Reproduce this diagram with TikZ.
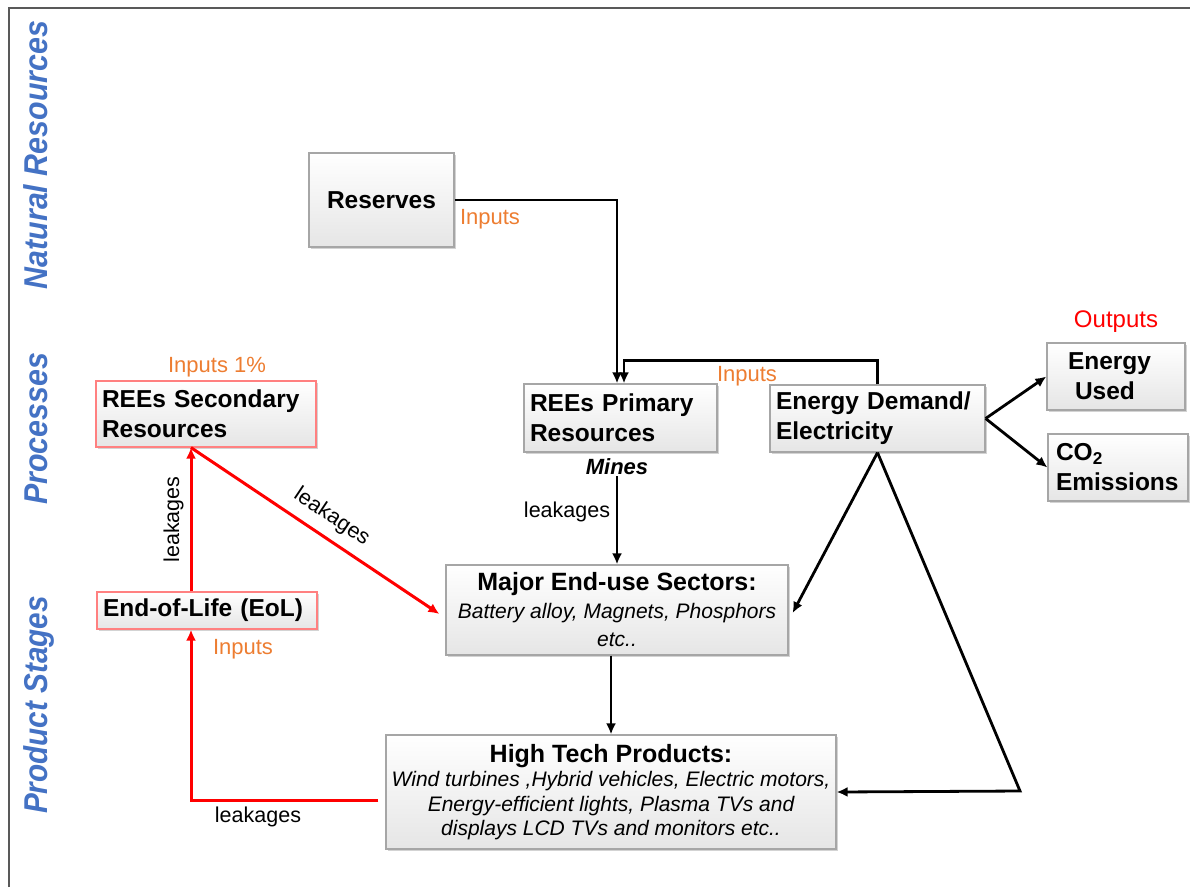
\documentclass[tikz,border=0pt]{standalone}
\usepackage{fontspec}
\setmainfont{Liberation Sans}
\usetikzlibrary{shadows,calc,arrows.meta}

\definecolor{sideblue}{HTML}{4472C4}
\definecolor{inorange}{HTML}{ED7D31}

\tikzset{
  box/.style={draw=black!35, line width=1.2pt, top color=white, bottom color=black!10,
    drop shadow={shadow xshift=2pt, shadow yshift=-2pt, opacity=0.35},
    inner sep=0pt, font=\bfseries\fontsize{24.5}{30}\selectfont},
  redbox/.style={box, draw=red!50},
  blk/.style={line width=2.8pt, -{Latex[length=11pt,width=10pt]}},
  redarr/.style={draw=red, line width=3pt, -{Latex[length=11pt,width=10pt]}},
  side/.style={color=sideblue, rotate=90, anchor=base, inner sep=0pt,
    font=\bfseries\itshape\fontsize{33}{33}\selectfont},
  lbl/.style={inorange, font=\fontsize{22}{22}\selectfont},
  leak/.style={font=\fontsize{21.5}{21.5}\selectfont},
}

\begin{document}
\begin{tikzpicture}[x=1pt, y=-1pt]
\useasboundingbox (0,0) rectangle (1190,887);

% frame
\draw[line width=1.5pt, black!65] (9,887) -- (9,8) -- (1190,8);

% side headings
\node[side] (hnat)  at (47,155) {\scalebox{0.92}[1]{Natural Resources}};
\node[side] (hproc) at (47,429) {\scalebox{0.92}[1]{Processes}};
\node[side] (hprod) at (47,705) {\scalebox{0.9}[1]{Product Stages}};

% boxes
\node[box, minimum width=145pt, minimum height=94pt, align=center] (res) at (381.5,200) {Reserves};
\node[redbox, minimum width=220pt, minimum height=66pt, text width=208pt, align=left] (sec) at (206,414) {REEs Secondary\\Resources};
\node[box, minimum width=193pt, minimum height=68pt, text width=181pt, align=left] (prim) at (620.5,418) {REEs Primary\\Resources};
\node[box, minimum width=215pt, minimum height=67pt, text width=203pt, align=left] (ed) at (877.5,418.5) {Energy Demand/\\Electricity};
\node[box, minimum width=138pt, minimum height=67pt, text width=126pt, align=left] (eu) at (1116,376.5) {\hspace*{15pt}Energy\\\hspace*{22pt}Used};
\node[box, minimum width=140pt, minimum height=67pt, text width=124pt, align=left] (co) at (1118,467.5) {CO\textsubscript{2}\\Emissions};
\node[box, minimum width=342pt, minimum height=90pt, align=center, font=\itshape\fontsize{21}{28}\selectfont] (maj) at (617,610)
  {{\bfseries\upshape\fontsize{25}{28}\selectfont Major End-use Sectors:}\\Battery alloy, Magnets, Phosphors\\etc..};
\node[redbox, minimum width=220pt, minimum height=37pt, text width=208pt, align=left] (eol) at (207,610.5) {End-of-Life (EoL)};
\node[box, minimum width=450pt, minimum height=114pt, align=center, font=\itshape\fontsize{21}{24.5}\selectfont] (ht) at (611,792)
  {{\bfseries\upshape\fontsize{25}{24.5}\selectfont High Tech Products:}\\Wind turbines ,Hybrid vehicles, Electric motors,\\Energy-efficient lights, Plasma TVs and\\displays LCD TVs and monitors etc..};

% free labels
\node[lbl] (in1) at (490,219) {Inputs};
\node[lbl] (in2) at (217,367) {Inputs 1\%};
\node[lbl] (in3) at (747,376) {Inputs};
\node[lbl] (in4) at (243,649) {Inputs};
\node[red, font=\fontsize{24}{24}\selectfont] (outl) at (1116,322) {Outputs};
\node[font=\bfseries\itshape\fontsize{22}{22}\selectfont, inner sep=1pt] (mines) at (617,467) {Mines};
\node[leak] (lk1) at (567,512) {leakages};
\node[leak] (lk2) at (258,817) {leakages};

% black flows
\draw[blk] (res.east) -| ([xshift=-3.5pt]prim.north);
\draw[blk] (ed.north) -- ++(0,-24) -| ([xshift=3.5pt]prim.north);
\draw[blk] (mines.south) -- (maj.north);
\draw[blk] (ht.north |- maj.south) -- (ht.north);
\draw[blk] (ed.east) -- (eu.west);
\draw[blk] (ed.east) -- (co.west);
\draw[blk] (ed.south) -- ([xshift=4pt,yshift=-3pt]maj.east);
\coordinate (turn) at (1020,791);
\draw[blk] (ed.south) -- (turn) -- (ht.east);

% red flows
\draw[redarr] ([xshift=-7pt,yshift=-8pt]ht.west) -| ([xshift=-16pt]eol.south);
\draw[redarr] ([xshift=-16pt]eol.north) -- node[leak, black, sloped, above, inner sep=6pt] (lk3) {leakages} ([xshift=-15pt]sec.south);
\draw[redarr] ([xshift=-15pt]sec.south) -- node[leak, black, sloped, above, pos=0.52, inner sep=9pt] (lk4) {leakages} ([xshift=-6pt,yshift=-4pt]maj.west);
\end{tikzpicture}
\end{document}
